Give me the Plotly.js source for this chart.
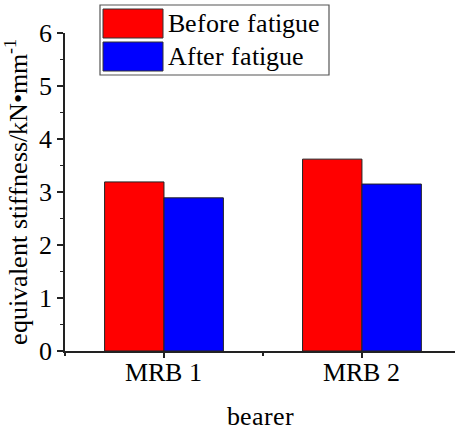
<!DOCTYPE html>
<html>
<head>
<meta charset="utf-8">
<script src="https://cdn.plot.ly/plotly-3.0.1.min.js"></script>
<style>
  @font-face {
    font-family: 'ChartSerif';
    src: local('Liberation Serif'), local('LiberationSerif-Regular'), local('LiberationSerif'),
         local('Times New Roman'), local('DejaVu Serif'), local('DejaVuSerif');
  }
  html, body { margin: 0; padding: 0; background: #fff; }
  #chart { width: 455px; height: 431px; }
  #chart text { font-family: 'ChartSerif', 'Liberation Serif', 'Times New Roman', 'DejaVu Serif', serif !important; }
</style>
</head>
<body>
<div id="chart"></div>
<script>
// Equivalent stiffness of each bearer, before and after the fatigue test
const categories = ['MRB 1', 'MRB 2'];
const seriesNames = ['Before fatigue', 'After fatigue'];
const beforeFatigue = [3.19, 3.62];
const afterFatigue = [2.89, 3.15];
const seriesColors = ['#ff0000', '#0000ff'];
const yTicks = [0, 1, 2, 3, 4, 5, 6];

const FONT = 'Liberation Serif';
const W = 455, H = 431;
const M = { l: 65, r: 0, t: 33, b: 80 };

// pixel -> paper helpers for the hand-built legend box
const px = (x) => (x - M.l) / (W - M.l - M.r);
const py = (y) => (H - M.b - y) / (H - M.t - M.b);

const xPos = categories.map((_, i) => i);
const seriesValues = [beforeFatigue, afterFatigue];

const traces = seriesValues.map((vals, k) => ({
  type: 'bar',
  name: seriesNames[k],
  x: xPos,
  y: vals,
  marker: { color: seriesColors[k], line: { color: '#222', width: 1 } },
  showlegend: false,
  hoverinfo: 'skip'
}));

// legend: framed box with large colour swatches
const shapes = [
  { type: 'rect', xref: 'paper', yref: 'paper',
    x0: px(100), x1: px(329), y0: py(75), y1: py(5),
    line: { color: '#555', width: 1.2 }, fillcolor: '#fff' }
];
const annotations = [];
const rowTop = [9, 42];
seriesNames.forEach((name, k) => {
  shapes.push({ type: 'rect', xref: 'paper', yref: 'paper',
    x0: px(103), x1: px(163), y0: py(rowTop[k] + 29), y1: py(rowTop[k]),
    line: { color: '#333', width: 1 }, fillcolor: seriesColors[k] });
  annotations.push({ xref: 'paper', yref: 'paper',
    x: px(167), y: py(rowTop[k] + 14.5), xanchor: 'left', yanchor: 'middle',
    text: name, showarrow: false,
    font: { family: FONT, size: 26, color: '#000' } });
});

const layout = {
  width: W, height: H,
  margin: M,
  paper_bgcolor: '#fff', plot_bgcolor: '#fff',
  font: { family: FONT, size: 26, color: '#000' },
  barmode: 'group',
  bargap: 0.4,
  bargroupgap: 0,
  xaxis: {
    range: [-0.5, 1.47],
    tickmode: 'array', tickvals: xPos, ticktext: categories,
    ticks: 'outside', ticklen: 5, tickwidth: 1.2, tickcolor: '#222',
    ticklabelstandoff: -8,
    minor: { dtick: 0.5, tick0: 0, ticks: 'outside', ticklen: 3, tickwidth: 1.2, tickcolor: '#222' },
    showline: true, linecolor: '#222', linewidth: 1.6,
    showgrid: false, zeroline: false, automargin: false,
    tickfont: { family: FONT, size: 26 },
    title: { text: 'bearer', font: { family: FONT, size: 26 }, standoff: 26 }
  },
  yaxis: {
    range: [0, 6],
    tickmode: 'array', tickvals: yTicks,
    ticks: 'outside', ticklen: 6, tickwidth: 1.2, tickcolor: '#222',
    minor: { dtick: 0.5, tick0: 0, ticks: 'outside', ticklen: 3, tickwidth: 1.2, tickcolor: '#222' },
    showline: true, linecolor: '#222', linewidth: 1.6,
    showgrid: false, zeroline: false, automargin: false,
    tickfont: { family: FONT, size: 26 },
    title: { text: 'equivalent stiffness/kN•mm<sup>-1</sup>', font: { family: FONT, size: 26 }, standoff: 8 }
  },
  shapes: shapes,
  annotations: annotations,
  showlegend: false
};

const config = { displayModeBar: false, staticPlot: true };
Plotly.newPlot('chart', traces, layout, config);

// redraw once the serif face is ready so text metrics use it
if (document.fonts && document.fonts.load) {
  document.fonts.load('26px ChartSerif', 'MRB').then(() => {
    Plotly.react('chart', traces, layout, config);
  }).catch(() => {});
}
</script>
</body>
</html>
